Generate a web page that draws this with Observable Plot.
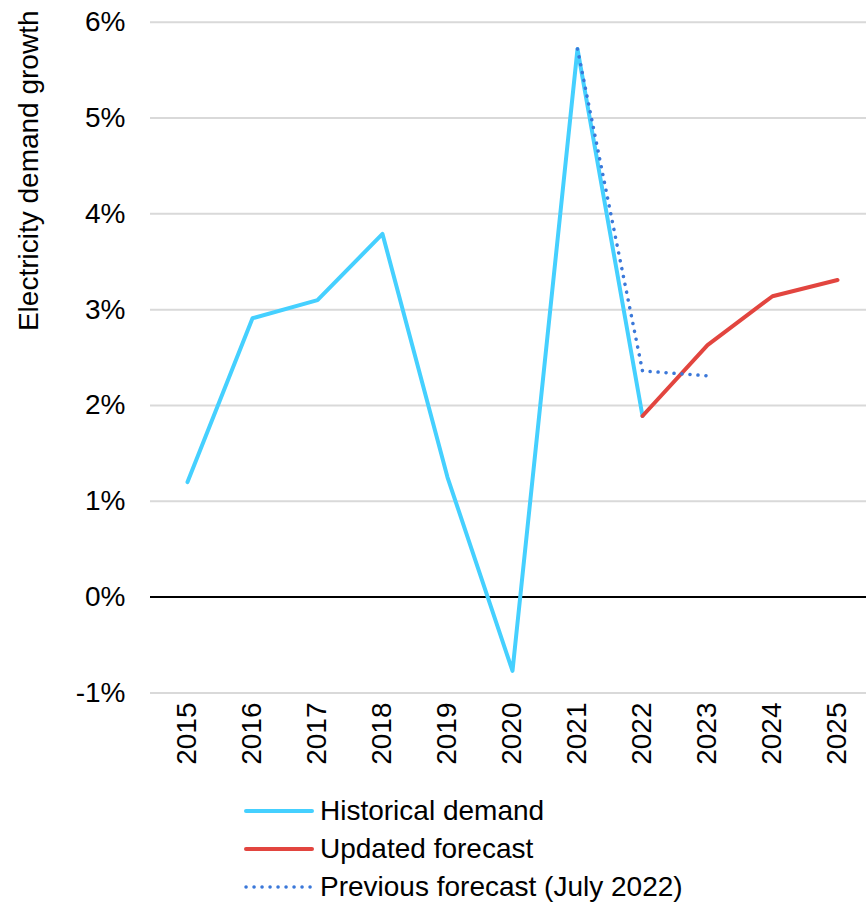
<!DOCTYPE html>
<html>
<head>
<meta charset="utf-8">
<script src="https://cdn.jsdelivr.net/npm/d3@7"></script>
<script src="https://cdn.jsdelivr.net/npm/@observablehq/plot@0.6"></script>
<style>
  body { margin: 0; background: #fff; font-family: "Liberation Sans", Arial, sans-serif; }
  #wrap { position: relative; width: 866px; height: 904px; }
  #legend { position: absolute; left: 244px; top: 792px; font-size: 28px; color: #000; }
  .row { height: 38px; line-height: 38px; display: flex; align-items: center; white-space: nowrap; }
  .row svg { margin-right: 6px; }
</style>
</head>
<body>
<div id="wrap"><div id="chart"></div><div id="legend"></div></div>
<script>
const years = ["2015","2016","2017","2018","2019","2020","2021","2022","2023","2024","2025"];
const historicalYears = ["2015","2016","2017","2018","2019","2020","2021","2022"];
const historicalValues = [1.20, 2.91, 3.10, 3.79, 1.25, -0.77, 5.72, 1.89];
const updatedYears = ["2022","2023","2024","2025"];
const updatedValues = [1.89, 2.63, 3.14, 3.31];
const previousYears = ["2021","2022","2023"];
const previousValues = [5.72, 2.36, 2.31];
const yTicks = [-1, 0, 1, 2, 3, 4, 5, 6];
const seriesNames = ["Historical demand", "Updated forecast", "Previous forecast (July 2022)"];
const colors = ["#45d0ff", "#e2453f", "#3b78d9"];

const hist = historicalYears.map((y, i) => ({year: y, value: historicalValues[i]}));
const upd = updatedYears.map((y, i) => ({year: y, value: updatedValues[i]}));
const prev = previousYears.map((y, i) => ({year: y, value: previousValues[i]}));

const chart = Plot.plot({
  width: 866,
  height: 780,
  marginLeft: 150,
  marginRight: 0,
  marginTop: 22,
  marginBottom: 88,
  style: {fontFamily: "'Liberation Sans', Arial, sans-serif", fontSize: "28px", color: "#000", background: "#fff"},
  x: {type: "point", domain: years, range: [183.3, 840], padding: 0},
  y: {domain: [-1, 6], range: [692.4, 21.7]},
  marks: [
    Plot.gridY(yTicks.filter(d => d !== 0), {stroke: "#d9d9d9", strokeOpacity: 1, strokeWidth: 2}),
    Plot.ruleY([0], {stroke: "#000", strokeWidth: 2}),
    Plot.axisY(yTicks, {tickSize: 0, tickPadding: 25, tickFormat: d => d + "%", label: null, fontSize: 28}),
    Plot.axisX(years, {tickSize: 0, tickPadding: 10, tickRotate: -90, label: null, fontSize: 28}),
    Plot.text(["Electricity demand growth"], {frameAnchor: "top-left", dx: -132, dy: -12, rotate: -90, textAnchor: "end", fontSize: 28, fill: "#000"}),
    Plot.line(hist, {x: "year", y: "value", stroke: colors[0], strokeWidth: 4, strokeLinejoin: "round", strokeLinecap: "round"}),
    Plot.line(upd, {x: "year", y: "value", stroke: colors[1], strokeWidth: 4, strokeLinejoin: "round", strokeLinecap: "round"}),
    Plot.line(prev, {x: "year", y: "value", stroke: colors[2], strokeWidth: 3.5, strokeDasharray: "0.1 7.9", strokeLinecap: "round"})
  ]
});
document.getElementById("chart").appendChild(chart);

const legend = document.getElementById("legend");
seriesNames.forEach((name, i) => {
  const row = document.createElement("div");
  row.className = "row";
  const dash = i === 2 ? 'stroke-dasharray="0.1 7.9"' : '';
  const sw = i === 2 ? 3.5 : 4;
  row.innerHTML = `<svg width="70" height="10"><line x1="2" y1="5" x2="68" y2="5" stroke="${colors[i]}" stroke-width="${sw}" stroke-linecap="round" ${dash}/></svg><span>${name}</span>`;
  legend.appendChild(row);
});
</script>
</body>
</html>
